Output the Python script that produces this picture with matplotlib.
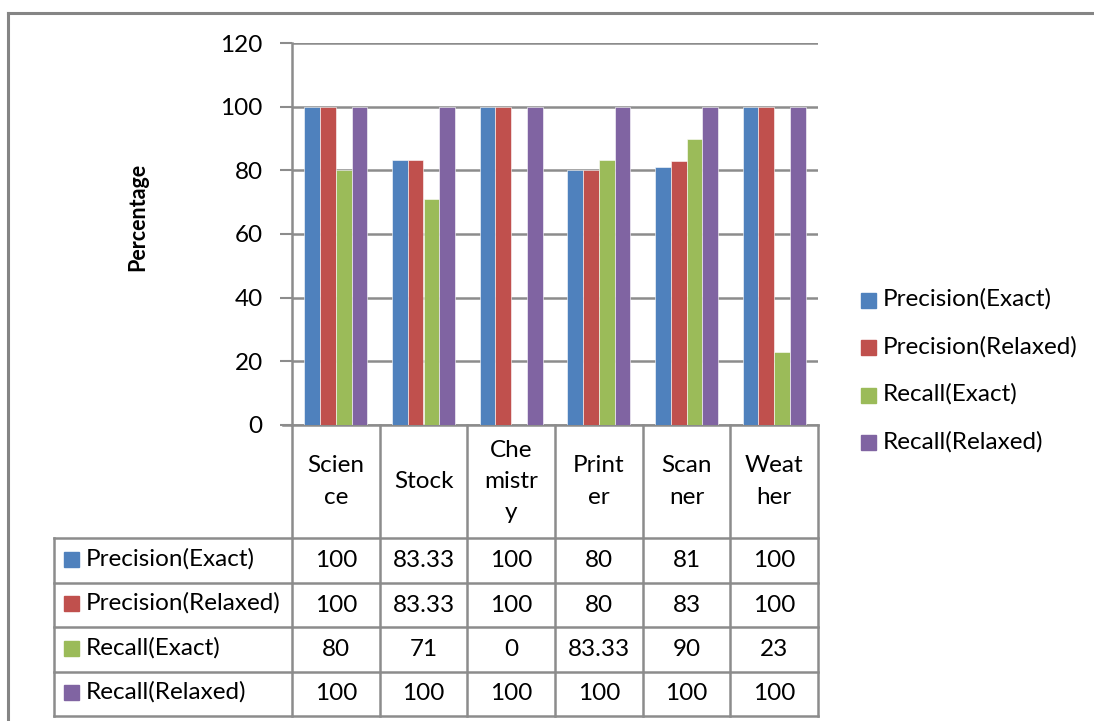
import matplotlib
matplotlib.use("Agg")
from matplotlib import pyplot as plt
from matplotlib.lines import Line2D
from matplotlib.patches import Rectangle
import numpy as np

categories = ["Science", "Stock", "Chemistry", "Printer", "Scanner", "Weather"]
header_labels = ["Scien\nce", "Stock", "Che\nmistr\ny", "Print\ner", "Scan\nner", "Weat\nher"]
series_names = ["Precision(Exact)", "Precision(Relaxed)", "Recall(Exact)", "Recall(Relaxed)"]
precision_exact = [100, 83.33, 100, 80, 81, 100]
precision_relaxed = [100, 83.33, 100, 80, 83, 100]
recall_exact = [80, 71, 0, 83.33, 90, 23]
recall_relaxed = [100, 100, 100, 100, 100, 100]
series_values = [precision_exact, precision_relaxed, recall_exact, recall_relaxed]
colors = ["#4F81BD", "#C0504D", "#9BBB59", "#8064A2"]
yticks = [0, 20, 40, 60, 80, 100, 120]

W, H = 1094, 721
FONT = "Lato"
FS = 17.5
GRID = "#8c8c8c"

fig = plt.figure(figsize=(W / 100, H / 100), dpi=100)

# pixel-space overlay for the frame and the data table
over = fig.add_axes([0, 0, 1, 1])
over.set_xlim(0, W)
over.set_ylim(H, 0)
over.axis("off")

# plot area in pixels
px_l, px_r, px_t, px_b = 292, 818, 43, 425
ax = fig.add_axes([px_l / W, 1 - px_b / H, (px_r - px_l) / W, (px_b - px_t) / H])
ax.set_zorder(2)
ax.patch.set_alpha(0)

n = len(categories)
x = np.arange(n)
bw = 0.18
for i, (name, vals, c) in enumerate(zip(series_names, series_values, colors)):
    ax.bar(x + (i - 1.5) * bw, vals, width=bw, color=c, edgecolor="white",
           linewidth=0.4, label=name, zorder=3)

ax.set_xlim(-0.5, n - 0.5)
ax.set_ylim(0, 120)
ax.set_yticks(yticks)
ax.set_yticklabels([str(t) for t in yticks], fontfamily=FONT, fontsize=FS)
ax.tick_params(axis="y", length=9, width=1.5, color=GRID, pad=12)
ax.set_xticks([])
ax.yaxis.grid(True, color=GRID, linewidth=1.8, zorder=0)
ax.set_axisbelow(True)
for s in ["top", "right", "bottom"]:
    ax.spines[s].set_visible(False)
ax.spines["left"].set_color(GRID)
ax.spines["left"].set_linewidth(1.8)

fig.text(138 / W, 1 - 217 / H, "Percentage", rotation=90, ha="center", va="center",
         fontfamily=FONT, fontsize=15.5, fontweight="bold")

# outer chart frame
over.add_line(Line2D([8, W], [13, 13], color="#858585", lw=2.2))
over.add_line(Line2D([8, 8], [13, H], color="#858585", lw=2.2))

# data table
col_edges = np.linspace(px_l, px_r, n + 1)
tab_l = 54
row_edges = [538, 583, 627, 672, 716]
lkw = dict(color=GRID, lw=1.8)
over.add_line(Line2D([px_l - 9, px_r], [px_b, px_b], **lkw))
for xe in col_edges:
    over.add_line(Line2D([xe, xe], [px_b, row_edges[-1]], **lkw))
over.add_line(Line2D([tab_l, tab_l], [row_edges[0], row_edges[-1]], **lkw))
for ye in row_edges:
    over.add_line(Line2D([tab_l, px_r], [ye, ye], **lkw))

tkw = dict(fontfamily=FONT, fontsize=FS, ha="center", va="center")
for j, lab in enumerate(header_labels):
    xc = (col_edges[j] + col_edges[j + 1]) / 2
    over.text(xc, (px_b + row_edges[0]) / 2, lab, linespacing=1.6, **tkw)


def fmt(v):
    return f"{v:g}"


for r, (name, vals, c) in enumerate(zip(series_names, series_values, colors)):
    yc = (row_edges[r] + row_edges[r + 1]) / 2
    over.add_patch(Rectangle((64, yc - 9), 15, 15, color=c))
    over.text(86, yc - 2, name, fontfamily=FONT, fontsize=FS, ha="left", va="center")
    for j, v in enumerate(vals):
        xc = (col_edges[j] + col_edges[j + 1]) / 2
        over.text(xc, yc, fmt(v), **tkw)

# legend
for r, (name, c) in enumerate(zip(series_names, colors)):
    yc = 300 + r * 47.5
    over.add_patch(Rectangle((861, yc - 7.5), 15, 15, color=c))
    over.text(883, yc - 1, name, fontfamily=FONT, fontsize=FS, ha="left", va="center")

fig.savefig("out.png", dpi=100)
